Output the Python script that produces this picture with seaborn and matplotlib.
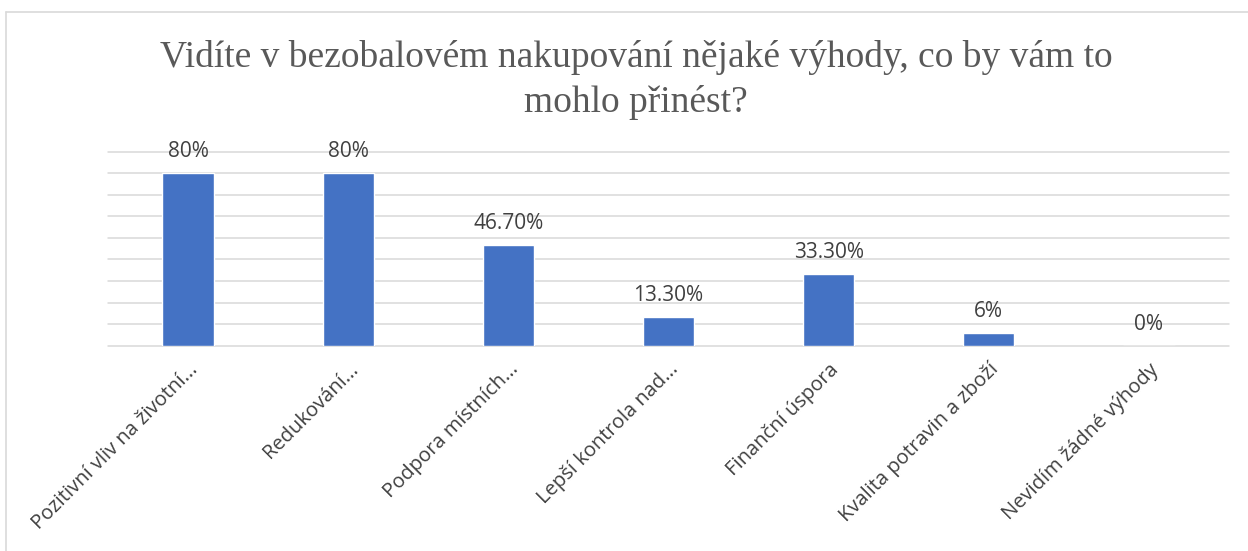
import matplotlib
matplotlib.use("Agg")
import matplotlib.pyplot as plt
import seaborn as sns
import pandas as pd
from matplotlib.lines import Line2D

categories = [
    "Pozitivní vliv na životní...",
    "Redukování...",
    "Podpora místních...",
    "Lepší kontrola nad...",
    "Finanční úspora",
    "Kvalita potravin a zboží",
    "Nevidím žádné výhody",
]
values = [80, 80, 46.7, 13.3, 33.3, 6, 0]
value_labels = ["80%", "80%", "46.70%", "13.30%", "33.30%", "6%", "0%"]
title_lines = ["Vidíte v bezobalovém nakupování nějaké výhody, co by vám to",
               "mohlo přinést?"]

sns.set_theme(style="white")
plt.rcParams['font.family'] = ['Open Sans', 'DejaVu Sans']

W, H = 1248, 551
fig = plt.figure(figsize=(W / 100, H / 100), dpi=100)
fig.patch.set_facecolor("white")

left, right = 108 / W, 1229 / W
bottom, top = 1 - 345.7 / H, 1 - 151.7 / H
ax = fig.add_axes([left, bottom, right - left, top - bottom])

df = pd.DataFrame({"cat": categories, "val": values})
sns.barplot(data=df, x="cat", y="val", color="#4472C4", width=0.32,
            saturation=1, ax=ax, zorder=3)

ax.set_ylim(0, 90)
ax.set_xlim(-0.5, len(categories) - 0.5)
ax.set_yticks(range(0, 91, 10))
ax.yaxis.grid(True, color="#D9D9D9", linewidth=1.1, zorder=0)
for gl in ax.get_ygridlines():
    gl.set_clip_on(False)
ax.set_axisbelow(True)
ax.tick_params(axis="y", left=False, labelleft=False)
ax.tick_params(axis="x", bottom=False, pad=4)
for s in ax.spines.values():
    s.set_visible(False)
ax.set_xlabel("")
ax.set_ylabel("")

ax.set_xticks(range(len(categories)))
ax.set_xticklabels(categories, rotation=45, ha="right", va="top",
                   rotation_mode="anchor", fontsize=14.5, color="#404040")

ax.bar_label(ax.containers[0], labels=value_labels, padding=8,
             fontsize=15, color="#404040", clip_on=False)

fig.text(636 / W, 1 - 66.7 / H, title_lines[0], ha="center", va="baseline",
         fontsize=27, color="#595959", family=["Liberation Serif", "DejaVu Serif"])
fig.text(636 / W, 1 - 111.7 / H, title_lines[1], ha="center", va="baseline",
         fontsize=27, color="#595959", family=["Liberation Serif", "DejaVu Serif"])

# chart area border
fig.add_artist(Line2D([6 / W, 1.0], [1 - 12 / H, 1 - 12 / H],
                      transform=fig.transFigure, color="#D9D9D9", lw=1.2))
fig.add_artist(Line2D([6 / W, 6 / W], [0, 1 - 12 / H],
                      transform=fig.transFigure, color="#D9D9D9", lw=1.2))

fig.savefig("out.png", dpi=100, facecolor="white")
